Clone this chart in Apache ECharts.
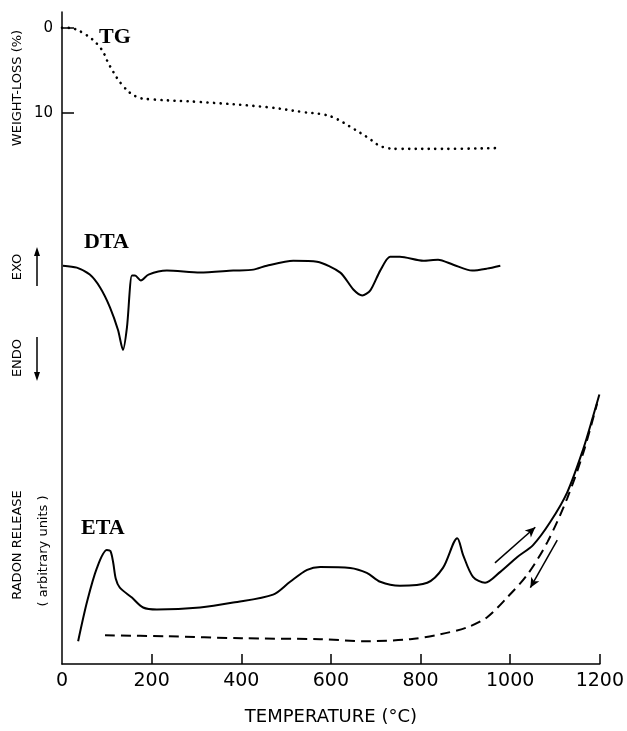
<!DOCTYPE html>
<html>
<head>
<meta charset="utf-8">
<script src="https://cdn.jsdelivr.net/npm/echarts@6/dist/echarts.min.js"></script>
<style>
html,body{margin:0;padding:0;background:#fff;}
#chart{width:627px;height:731px;}
</style>
</head>
<body>
<div id="chart"></div>
<script>
// ---- TG (weight loss, %) ----
const tgTemp = [0, 11, 47, 85, 107, 136, 167, 203, 308, 457, 540, 576, 605, 643, 680, 717, 754, 850, 978];
const tgLoss = [0, 0, 0.6, 2.3, 4.5, 6.8, 8.1, 8.4, 8.7, 9.3, 9.9, 10.1, 10.5, 11.6, 12.8, 14.0, 14.2, 14.2, 14.1];

// ---- DTA (arbitrary units, + = exo) ----
const dtaTemp = [2, 33, 62, 85, 107, 125, 136, 145, 156, 163, 176, 193, 234, 308, 382, 427, 457, 516, 569, 621, 650, 670, 688, 710, 732, 754, 806, 839, 873, 915, 948, 978];
const dtaSignal = [2, 0, -7, -20, -40, -63, -83, -60, -8, -8, -13, -7, -3, -5, -3, -2, 2, 7, 6, -5, -22, -28, -23, -3, 11, 11, 7, 8, 3, -3, -1, 2];

// ---- ETA heating (solid) ----
const etaHeatTemp = [36, 56, 78, 100, 108, 114, 120, 129, 156, 181, 212, 308, 382, 471, 509, 547, 576, 643, 680, 710, 754, 815, 850, 882, 895, 917, 944, 978, 1016, 1051, 1089, 1127, 1163, 1185, 1199];
const etaHeatRelease = [23, 63, 97, 115, 114, 103, 86, 77, 67, 57, 55, 57, 62, 70, 83, 95, 98, 97, 92, 83, 79, 82, 97, 127, 110, 88, 82, 93, 108, 120, 143, 173, 217, 250, 272];

// ---- ETA cooling (dashed) ----
const etaCoolTemp = [96, 234, 400, 576, 680, 777, 844, 904, 948, 993, 1038, 1083, 1127, 1163, 1194];
const etaCoolRelease = [29, 28, 26, 25, 23, 25, 30, 37, 47, 67, 90, 123, 167, 213, 263];

// ---- arrows on ETA (heating up / cooling down) ----
const heatArrow = [[966, 102], [1056, 138]];
const coolArrow = [[1105, 125], [1045, 77]];

const xTicks = [0, 200, 400, 600, 800, 1000, 1200];
const tgTicks = [0, 10];

const zip = (a, b) => a.map((v, i) => [v, b[i]]);

const chart = echarts.init(document.getElementById('chart'), null, {renderer: 'canvas'});
const FONT = 'DejaVu Sans';
const SERIF = 'Liberation Serif';

chart.setOption({
  backgroundColor: '#fff',
  animation: false,
  grid: {left: 62, right: 27, top: 12, bottom: 61},
  xAxis: {
    type: 'value', min: 0, max: 1200, interval: 200,
    axisLine: {show: true, onZero: false, lineStyle: {color: '#000', width: 1.5}},
    axisTick: {show: true, inside: true, length: 10, customValues: xTicks.slice(1), lineStyle: {color: '#000', width: 1.5}},
    axisLabel: {color: '#000', fontFamily: FONT, fontSize: 19, margin: 8, customValues: xTicks, formatter: v => String(v)},
    splitLine: {show: false},
    name: 'TEMPERATURE (°C)', nameLocation: 'middle', nameGap: 44,
    nameTextStyle: {color: '#000', fontFamily: FONT, fontSize: 18}
  },
  yAxis: [
    { // TG
      type: 'value', inverse: true, min: -1.86, max: 74.65,
      axisLine: {show: true, onZero: false, lineStyle: {color: '#000', width: 1.5}},
      axisTick: {show: true, inside: true, length: 12, customValues: tgTicks, lineStyle: {color: '#000', width: 1.5}},
      axisLabel: {show: true, color: '#000', fontFamily: FONT, fontSize: 15, margin: 9, customValues: tgTicks},
      splitLine: {show: false}
    },
    { // DTA
      type: 'value', min: -400, max: 258, show: false, splitLine: {show: false}
    },
    { // ETA
      type: 'value', min: 0, max: 658, show: false, splitLine: {show: false}
    }
  ],
  series: [
    {
      type: 'line', name: 'TG', yAxisIndex: 0, data: zip(tgTemp, tgLoss), smooth: 0.4,
      showSymbol: false, lineStyle: {color: '#000', width: 2.6, type: [0.1, 6.5], cap: 'round'}
    },
    {
      type: 'line', name: 'DTA', yAxisIndex: 1, data: zip(dtaTemp, dtaSignal), smooth: 0.25,
      showSymbol: false, lineStyle: {color: '#000', width: 2}
    },
    {
      type: 'line', name: 'ETA heating', yAxisIndex: 2, data: zip(etaHeatTemp, etaHeatRelease), smooth: 0.3,
      showSymbol: false, lineStyle: {color: '#000', width: 2},
      markLine: {
        silent: true, symbol: ['none', 'arrow'], symbolSize: [7, 10],
        label: {show: false},
        lineStyle: {color: '#000', width: 1.5, type: 'solid'},
        data: [
          [{coord: heatArrow[0]}, {coord: heatArrow[1]}],
          [{coord: coolArrow[0]}, {coord: coolArrow[1]}]
        ]
      }
    },
    {
      type: 'line', name: 'ETA cooling', yAxisIndex: 2, data: zip(etaCoolTemp, etaCoolRelease), smooth: 0.3,
      showSymbol: false, lineStyle: {color: '#000', width: 2, type: [10, 6]}
    }
  ],
  graphic: [
    {type: 'text', left: 99, top: 26, style: {text: 'TG', font: 'bold 22px "' + SERIF + '"', fill: '#000'}},
    {type: 'text', left: 84, top: 231, style: {text: 'DTA', font: 'bold 22px "' + SERIF + '"', fill: '#000'}},
    {type: 'text', left: 81, top: 517, style: {text: 'ETA', font: 'bold 22px "' + SERIF + '"', fill: '#000'}},
    {type: 'text', x: 18, y: 88, rotation: Math.PI / 2,
      style: {text: 'WEIGHT-LOSS (%)', font: '13px "' + FONT + '"', fill: '#000', align: 'center', verticalAlign: 'middle'}},
    {type: 'text', x: 18, y: 267, rotation: Math.PI / 2,
      style: {text: 'EXO', font: '13px "' + FONT + '"', fill: '#000', align: 'center', verticalAlign: 'middle'}},
    {type: 'text', x: 18, y: 358, rotation: Math.PI / 2,
      style: {text: 'ENDO', font: '13px "' + FONT + '"', fill: '#000', align: 'center', verticalAlign: 'middle'}},
    {type: 'line', shape: {x1: 37, y1: 286, x2: 37, y2: 252}, style: {stroke: '#000', lineWidth: 1.5}},
    {type: 'polygon', shape: {points: [[37, 247], [34, 256], [40, 256]]}, style: {fill: '#000'}},
    {type: 'line', shape: {x1: 37, y1: 337, x2: 37, y2: 375}, style: {stroke: '#000', lineWidth: 1.5}},
    {type: 'polygon', shape: {points: [[37, 381], [34, 372], [40, 372]]}, style: {fill: '#000'}},
    {type: 'text', x: 18, y: 545, rotation: Math.PI / 2,
      style: {text: 'RADON RELEASE', font: '13px "' + FONT + '"', fill: '#000', align: 'center', verticalAlign: 'middle'}},
    {type: 'text', x: 44, y: 551, rotation: Math.PI / 2,
      style: {text: '( arbitrary units )', font: '13px "' + FONT + '"', fill: '#000', align: 'center', verticalAlign: 'middle'}}
  ]
});
</script>
</body>
</html>
